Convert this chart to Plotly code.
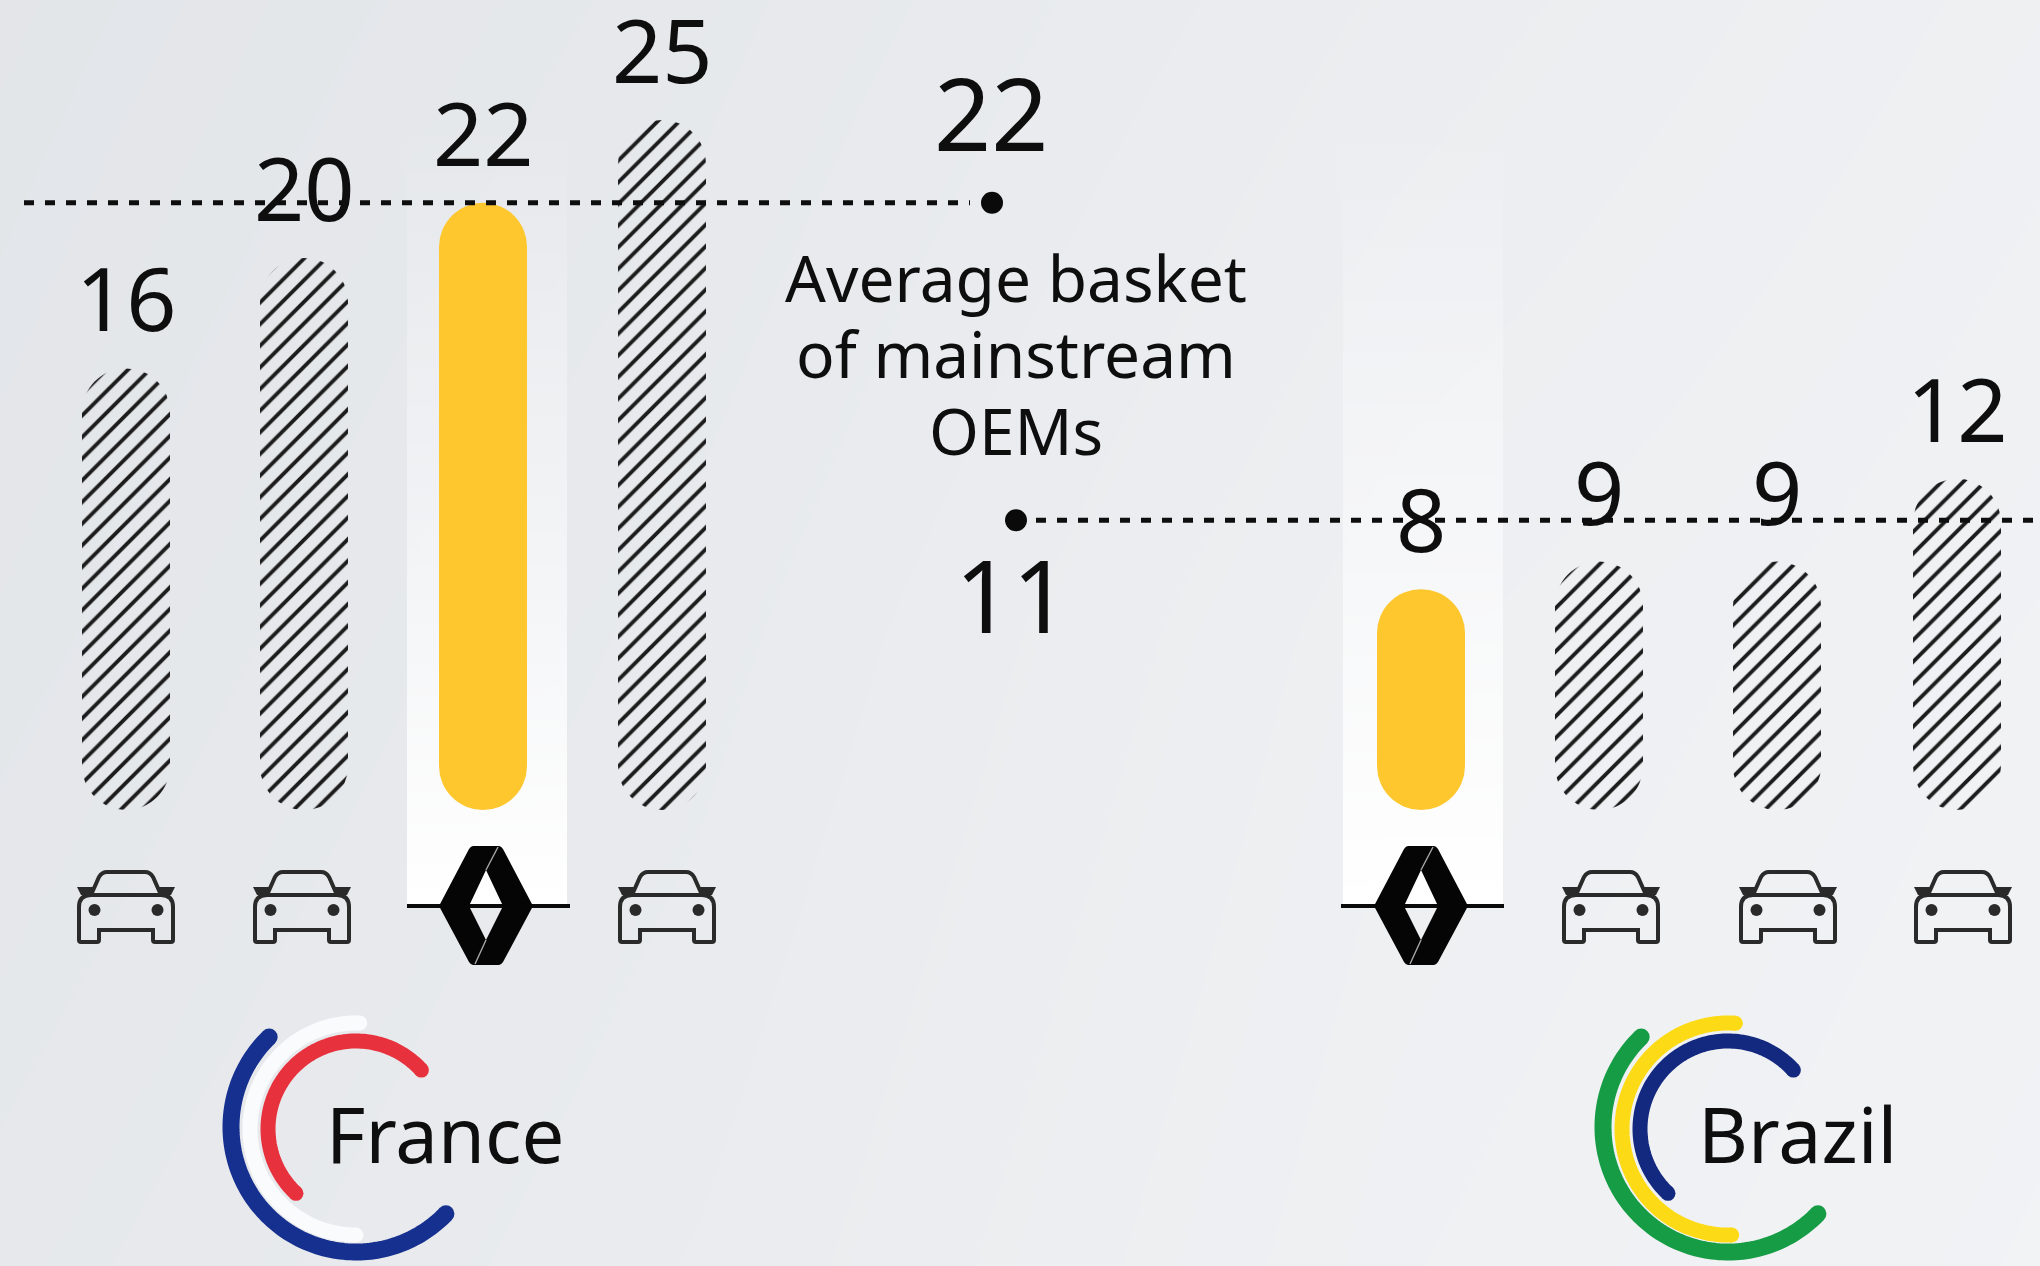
import math
import plotly.graph_objects as go

# ---------- data ----------
categories_france = ["Mainstream OEM 1", "Mainstream OEM 2", "Renault", "Mainstream OEM 3"]
values_france = [16, 20, 22, 25]
categories_brazil = ["Renault", "Mainstream OEM 1", "Mainstream OEM 2", "Mainstream OEM 3"]
values_brazil = [8, 9, 9, 12]
average_france = 22
average_brazil = 10.5
average_label_france = "22"
average_label_brazil = "11"
average_caption = ["Average basket", "of mainstream", "OEMs"]
country_labels = ["France", "Brazil"]

# ---------- layout constants (pixels of the 2040x1266 canvas) ----------
W, H = 2040, 1266
X_FR = [126, 304, 483, 662]
X_BR = [1421, 1599, 1777, 1957]
CAR_X = [126, 302, 667, 1611, 1788, 1963]
CAR_Y = 907
LOGO_X = [486, 1421]
LOGO_Y = 906
COLUMNS = [(407, 567), (1343, 1503)]
BASE_LINES = [(407, 570), (1341, 1504)]
RING_CENTRES = [(356, 1127), (1728, 1127)]
BAR_W = 88
BASE_PX = 810
PX_PER_UNIT = 27.6
YELLOW = "#fec72e"
INK = "#0e0e0e"
FONT = "Noto Sans"

fig = go.Figure()

# background
fig.add_trace(go.Heatmap(
    x=[-100, 700, 1400, 2140], y=[-100, 630, 1366],
    z=[[0.10, 0.30, 0.55, 0.78],
       [0.18, 0.42, 0.72, 0.88],
       [0.30, 0.52, 0.80, 0.95]],
    zmin=0, zmax=1, zsmooth="best", showscale=False, hoverinfo="skip",
    colorscale=[[0, "#e0e3e7"], [1, "#f3f4f6"]], xaxis="x", yaxis="y"))

# white glow columns
for x0, x1 in COLUMNS:
    fig.add_trace(go.Scatter(
        x=[x0, x1, x1, x0, x0], y=[120, 120, 906, 906, 120],
        mode="lines", line=dict(width=0), fill="toself", hoverinfo="skip", showlegend=False,
        fillgradient=dict(type="vertical", start=120, stop=906,
                          colorscale=[[0, "rgba(255,255,255,0)"], [0.5, "rgba(255,255,255,0.45)"],
                                      [1, "rgba(255,255,255,1)"]]),
        xaxis="x", yaxis="y"))

# bars: an explicit base makes plotly round all four corners, which gives the pill shape
def add_bars(xs, vals, names):
    for flag in (False, True):
        px = [x for x, n in zip(xs, names) if (n == "Renault") == flag]
        pv = [v for v, n in zip(vals, names) if (n == "Renault") == flag]
        pn = [n for n in names if (n == "Renault") == flag]
        if flag:
            marker = dict(color=YELLOW, cornerradius=BAR_W / 2, line=dict(width=0))
        else:
            marker = dict(color="rgba(0,0,0,0)", cornerradius=BAR_W / 2, line=dict(width=0),
                          pattern=dict(shape="/", size=15.3, solidity=0.25, fgcolor="#1c1c1c",
                                       fgopacity=1, bgcolor="rgba(0,0,0,0)", fillmode="overlay"))
        fig.add_trace(go.Bar(x=px, y=pv, base=[0] * len(pv), width=[BAR_W] * len(pv),
                             marker=marker, text=pn, textposition="none", hoverinfo="skip",
                             showlegend=False, xaxis="x", yaxis="y2"))

add_bars(X_FR, values_france, categories_france)
add_bars(X_BR, values_brazil, categories_brazil)

# average lines
DASH = "10px,11px"
fig.add_trace(go.Scatter(x=[24, 970], y=[average_france] * 2, mode="lines", hoverinfo="skip", showlegend=False,
                         line=dict(color=INK, width=5, dash=DASH), xaxis="x", yaxis="y2"))
fig.add_trace(go.Scatter(x=[1036, W], y=[average_brazil] * 2, mode="lines", hoverinfo="skip", showlegend=False,
                         line=dict(color=INK, width=5, dash=DASH), xaxis="x", yaxis="y2"))
fig.add_trace(go.Scatter(x=[992, 1016], y=[average_france, average_brazil], mode="markers", hoverinfo="skip",
                         showlegend=False, marker=dict(color="#0a0a0a", size=22), xaxis="x", yaxis="y2"))

# country rings
def arc(cx, cy, r, a0, a1, color, width):
    n = 120
    xs, ys = [], []
    for i in range(n + 1):
        a = math.radians(a0 + (a1 - a0) * i / n)
        xs.append(cx + r * math.cos(a))
        ys.append(cy - r * math.sin(a))
    fig.add_trace(go.Scatter(x=xs, y=ys, mode="lines", hoverinfo="skip", showlegend=False,
                             line=dict(color=color, width=width, simplify=False),
                             xaxis="x", yaxis="y"))
    fig.add_trace(go.Scatter(x=[xs[0], xs[-1]], y=[ys[0], ys[-1]], mode="markers", hoverinfo="skip", showlegend=False,
                             marker=dict(color=color, size=width, opacity=1, line=dict(width=0)),
                             xaxis="x", yaxis="y"))

RING_STYLES = [
    [(125, 0, 134, 316, "#16308f", 17), (106, 2, 88, 270, "#fafbfc", 15), (88, 2, 42, 227, "#e7323e", 15)],
    [(125, 0, 134, 316, "#169c45", 17), (106, 2, 86, 272, "#fcdb16", 15), (88, 2, 42, 227, "#13297f", 15)],
]
for (cx, cy), rings in zip(RING_CENTRES, RING_STYLES):
    for r, dy, a0, a1, col, w in rings:
        arc(cx, cy + dy, r, a0, a1, col, w)

# icons
shapes = []
def path_shape(path, **kw):
    shapes.append(dict(type="path", path=path, xref="x", yref="y", layer="above", **kw))

def shifted(cmds, dx, dy):
    out = []
    for c in cmds:
        if isinstance(c, str):
            out.append(c)
        else:
            out.append(f"{c[0] + dx},{c[1] + dy}")
    return " ".join(out)

CAR_BODY = ["M", (-27, 33), "Q", (-27, 35), (-29, 35), "L", (-45, 35), "Q", (-47, 35), (-47, 33), "L", (-47, 0),
            "Q", (-47, -12), (-35, -12), "L", (35, -12), "Q", (47, -12), (47, 0), "L", (47, 33),
            "Q", (47, 35), (45, 35), "L", (29, 35), "Q", (27, 35), (27, 33), "L", (27, 23), "L", (-27, 23), "Z"]
CAR_ROOF = ["M", (-35, -12), "L", (-27, -30), "Q", (-24, -35), (-19, -35), "L", (19, -35),
            "Q", (24, -35), (27, -30), "L", (35, -12)]
MIRROR_L = ["M", (-49, -20), "L", (-33, -20), "L", (-36, -11), "L", (-45, -12), "Z"]
MIRROR_R = ["M", (49, -20), "L", (33, -20), "L", (36, -11), "L", (45, -12), "Z"]
CAR_INK = "#2a2a2a"
for cx in CAR_X:
    path_shape(shifted(CAR_BODY, cx, CAR_Y), line=dict(color=CAR_INK, width=4))
    path_shape(shifted(CAR_ROOF, cx, CAR_Y), line=dict(color=CAR_INK, width=4))
    path_shape(shifted(MIRROR_L, cx, CAR_Y), fillcolor=CAR_INK, line=dict(width=0))
    path_shape(shifted(MIRROR_R, cx, CAR_Y), fillcolor=CAR_INK, line=dict(width=0))
fig.add_trace(go.Scatter(
    x=[cx + s for cx in CAR_X for s in (-31.5, 31.5)], y=[CAR_Y + 3] * (2 * len(CAR_X)),
    mode="markers", marker=dict(color=CAR_INK, size=12, line=dict(width=0)), hoverinfo="skip", showlegend=False,
    xaxis="x", yaxis="y"))

LOGO_BODY = ["M", (-13, -60), "Q", (-15, -60), (-17, -57), "L", (-47, 0), "L", (-17, 56), "Q", (-15, 59), (-13, 59),
             "L", (13, 59), "Q", (15, 59), (17, 56), "L", (47, 0), "L", (17, -57), "Q", (15, -60), (13, -60), "Z",
             "M", (0, -36), "L", (17, 0), "L", (0, 34), "L", (-17, 0), "Z"]
for (x0, x1) in BASE_LINES:
    shapes.append(dict(type="line", x0=x0, x1=x1, y0=LOGO_Y, y1=LOGO_Y, xref="x", yref="y", layer="above",
                       line=dict(color="#0a0a0a", width=4)))
for lx in LOGO_X:
    path_shape(shifted(LOGO_BODY, lx, LOGO_Y), fillcolor="#050505", line=dict(width=0))
    path_shape(shifted(["M", (12, -59), "L", (0, -36)], lx, LOGO_Y), line=dict(color="#a8a8a8", width=1.4))
    path_shape(shifted(["M", (0, 34), "L", (-11, 58)], lx, LOGO_Y), line=dict(color="#a8a8a8", width=1.4))

# text
ann = []
def label(x, y, text, size, yref="y", xanchor="center", yshift=0):
    ann.append(dict(x=x, y=y, text=text, xref="x", yref=yref, showarrow=False, xanchor=xanchor, yanchor="middle",
                    yshift=yshift, font=dict(family=FONT, size=size, color=INK)))

for x, v in zip(X_FR + X_BR, values_france + values_brazil):
    label(x, v, str(v), 88, yref="y2", yshift=71)
label(991, 112, average_label_france, 100)
label(1012, 594, average_label_brazil, 100)
for y, line in zip([277, 353, 430], average_caption):
    label(1016, y, line, 64)
label(324, 1133, country_labels[0], 76, xanchor="left")
label(1696, 1133, country_labels[1], 77, xanchor="left")

fig.update_layout(
    width=W, height=H, margin=dict(l=0, r=0, t=0, b=0, pad=0),
    paper_bgcolor="#e9ebee", plot_bgcolor="rgba(0,0,0,0)",
    barmode="overlay", showlegend=False, shapes=shapes, annotations=ann,
    xaxis=dict(range=[0, W], visible=False, fixedrange=True),
    yaxis=dict(range=[H, 0], visible=False, fixedrange=True),
    yaxis2=dict(range=[(BASE_PX - H) / PX_PER_UNIT, BASE_PX / PX_PER_UNIT], visible=False, fixedrange=True,
                overlaying="y", anchor="x"),
)

fig.write_html("out.html", config=dict(displayModeBar=False),
               post_script="document.body.style.margin='0';")
